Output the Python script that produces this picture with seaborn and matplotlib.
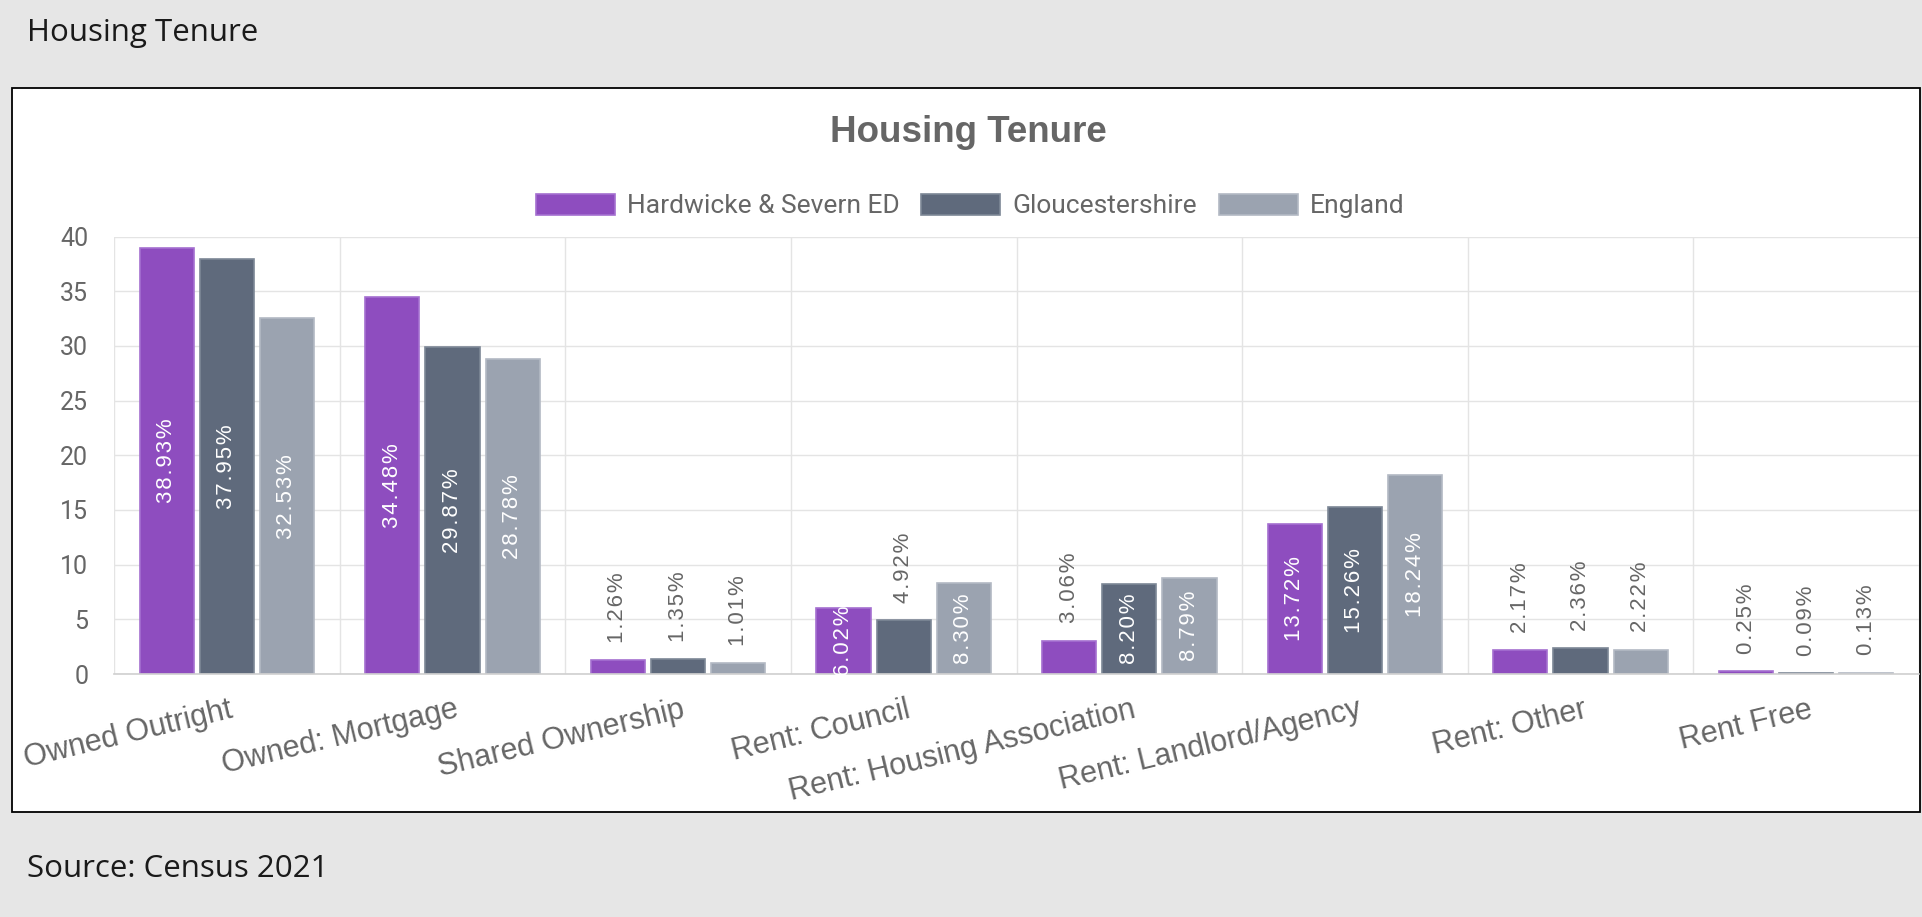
import matplotlib
matplotlib.use('Agg')
import matplotlib.pyplot as plt
import matplotlib.transforms as mtransforms
from matplotlib import font_manager
from matplotlib.patches import Patch, Rectangle
import seaborn as sns
import pandas as pd
import numpy as np

# ---------------- data ----------------
categories = ["Owned Outright", "Owned: Mortgage", "Shared Ownership", "Rent: Council",
              "Rent: Housing Association", "Rent: Landlord/Agency", "Rent: Other", "Rent Free"]
series_names = ["Hardwicke & Severn ED", "Gloucestershire", "England"]
hardwicke = [38.93, 34.48, 1.26, 6.02, 3.06, 13.72, 2.17, 0.25]
gloucestershire = [37.95, 29.87, 1.35, 4.92, 8.20, 15.26, 2.36, 0.09]
england = [32.53, 28.78, 1.01, 8.30, 8.79, 18.24, 2.22, 0.13]
yticks = [0, 5, 10, 15, 20, 25, 30, 35, 40]

colors = ["#8e4dbf", "#5f6a7c", "#9ba3b0"]
edge_colors = ["#a46fd0", "#7d8796", "#b3b9c4"]

series_values = [hardwicke, gloucestershire, england]
df = pd.DataFrame({
    "category": categories * 3,
    "series": [s for s in series_names for _ in categories],
    "value": hardwicke + gloucestershire + england,
})

sns.set_theme(style="white")
names = {f.name for f in font_manager.fontManager.ttflist}
if "Liberation Sans Narrow" in names:
    label_family, label_size = "Liberation Sans Narrow", 19.5
else:
    label_family, label_size = "Liberation Sans", 16

W, H = 1922, 917
fig = plt.figure(figsize=(W / 100, H / 100), dpi=100, facecolor="#e6e6e6")
fig.patches.append(Rectangle((12 / W, 1 - 811.5 / H), (1920 - 12) / W, (811.5 - 88) / H,
                             transform=fig.transFigure, facecolor="white",
                             edgecolor="black", lw=1.3, zorder=-5))

ax = fig.add_axes([114 / W, 1 - 674 / H, (1919 - 114) / W, (674 - 236.6) / H])
ax.set_zorder(2)
ax.set_facecolor("none")
sns.barplot(data=df, x="category", y="value", hue="series", hue_order=series_names,
            order=categories, palette=colors, saturation=1, width=0.8, gap=0.1,
            errorbar=None, legend=False, ax=ax, linewidth=1.2)
ax.set_ylim(0, 40)
ax.set_xlim(-0.5, len(categories) - 0.5)
ax.set_xlabel("")
ax.set_ylabel("")

grid_c = "#e4e4e4"
ax.set_axisbelow(True)
for sp in ["top", "right", "left"]:
    ax.spines[sp].set_visible(False)
ax.spines["bottom"].set_color("#cfcfcf")
ax.spines["bottom"].set_linewidth(1.2)

ax.set_yticks(yticks)
ax.set_yticklabels([str(t) for t in yticks], fontsize=18, color="#666666", family="Roboto")
ax.tick_params(axis="y", which="major", length=11.5, color=grid_c, pad=7, width=1)
ax.grid(axis="y", which="major", color=grid_c, lw=1)

ax.set_xticks(range(len(categories)))
ax.set_xticks(np.arange(-0.5, len(categories), 1), minor=True)
ax.set_xticklabels(categories, rotation=13.5, ha="right", va="top", rotation_mode="anchor",
                   fontsize=22, color="#666666", family="Liberation Sans")
ax.tick_params(axis="x", which="major", length=0, pad=15)
ax.tick_params(axis="x", which="minor", length=11, color=grid_c, width=1)
ax.grid(axis="x", which="minor", color=grid_c, lw=1)
ax.grid(axis="x", which="major", visible=False)
shift = mtransforms.ScaledTranslation(2 / 100, 0, fig.dpi_scale_trans)
for lab in ax.get_xticklabels():
    lab.set_transform(lab.get_transform() + shift)

# bars: edge colors and data labels (letter-spaced like the original)
lab_fam = [label_family, "DejaVu Sans"]
for container, vals, ec in zip(ax.containers, series_values, edge_colors):
    for bar, v in zip(container, vals):
        bar.set_edgecolor(ec)
        xc = bar.get_x() + bar.get_width() / 2
        txt = "\u200a".join(f"{v:.2f}%")
        if v >= 5.5:
            ax.text(xc, v / 2, txt, rotation=90, ha="center", va="center", color="white",
                    fontsize=label_size, family=lab_fam, clip_on=False)
        else:
            ax.annotate(txt, (xc, v), xytext=(0, 12.5), textcoords="offset points",
                        rotation=90, ha="center", va="bottom", color="#666666",
                        fontsize=label_size, family=lab_fam)

# title & legend
fig.text(968 / W, 1 - 132 / H, "Housing Tenure", ha="center", va="center", fontsize=26.5,
         fontweight="bold", color="#666666", family="Liberation Sans")
handles = [Patch(facecolor=c, edgecolor=e, lw=1.2) for c, e in zip(colors, edge_colors)]
fig.legend(handles, series_names, loc="center", bbox_to_anchor=(970 / W, 1 - 206 / H),
           ncol=3, frameon=False, prop={"family": "Roboto", "size": 19}, labelcolor="#666666",
           handlelength=3.0, handleheight=0.87, handletextpad=0.45, columnspacing=0.83,
           borderpad=0, borderaxespad=0)

fig.text(27 / W, 1 - 33 / H, "Housing Tenure", ha="left", va="center", fontsize=22.5,
         family="Open Sans", color="#1a1a1a")
fig.text(27 / W, 1 - 869 / H, "Source: Census 2021", ha="left", va="center", fontsize=22.5,
         family="Open Sans", color="#1a1a1a")

fig.savefig("out.png", dpi=100, facecolor=fig.get_facecolor())
